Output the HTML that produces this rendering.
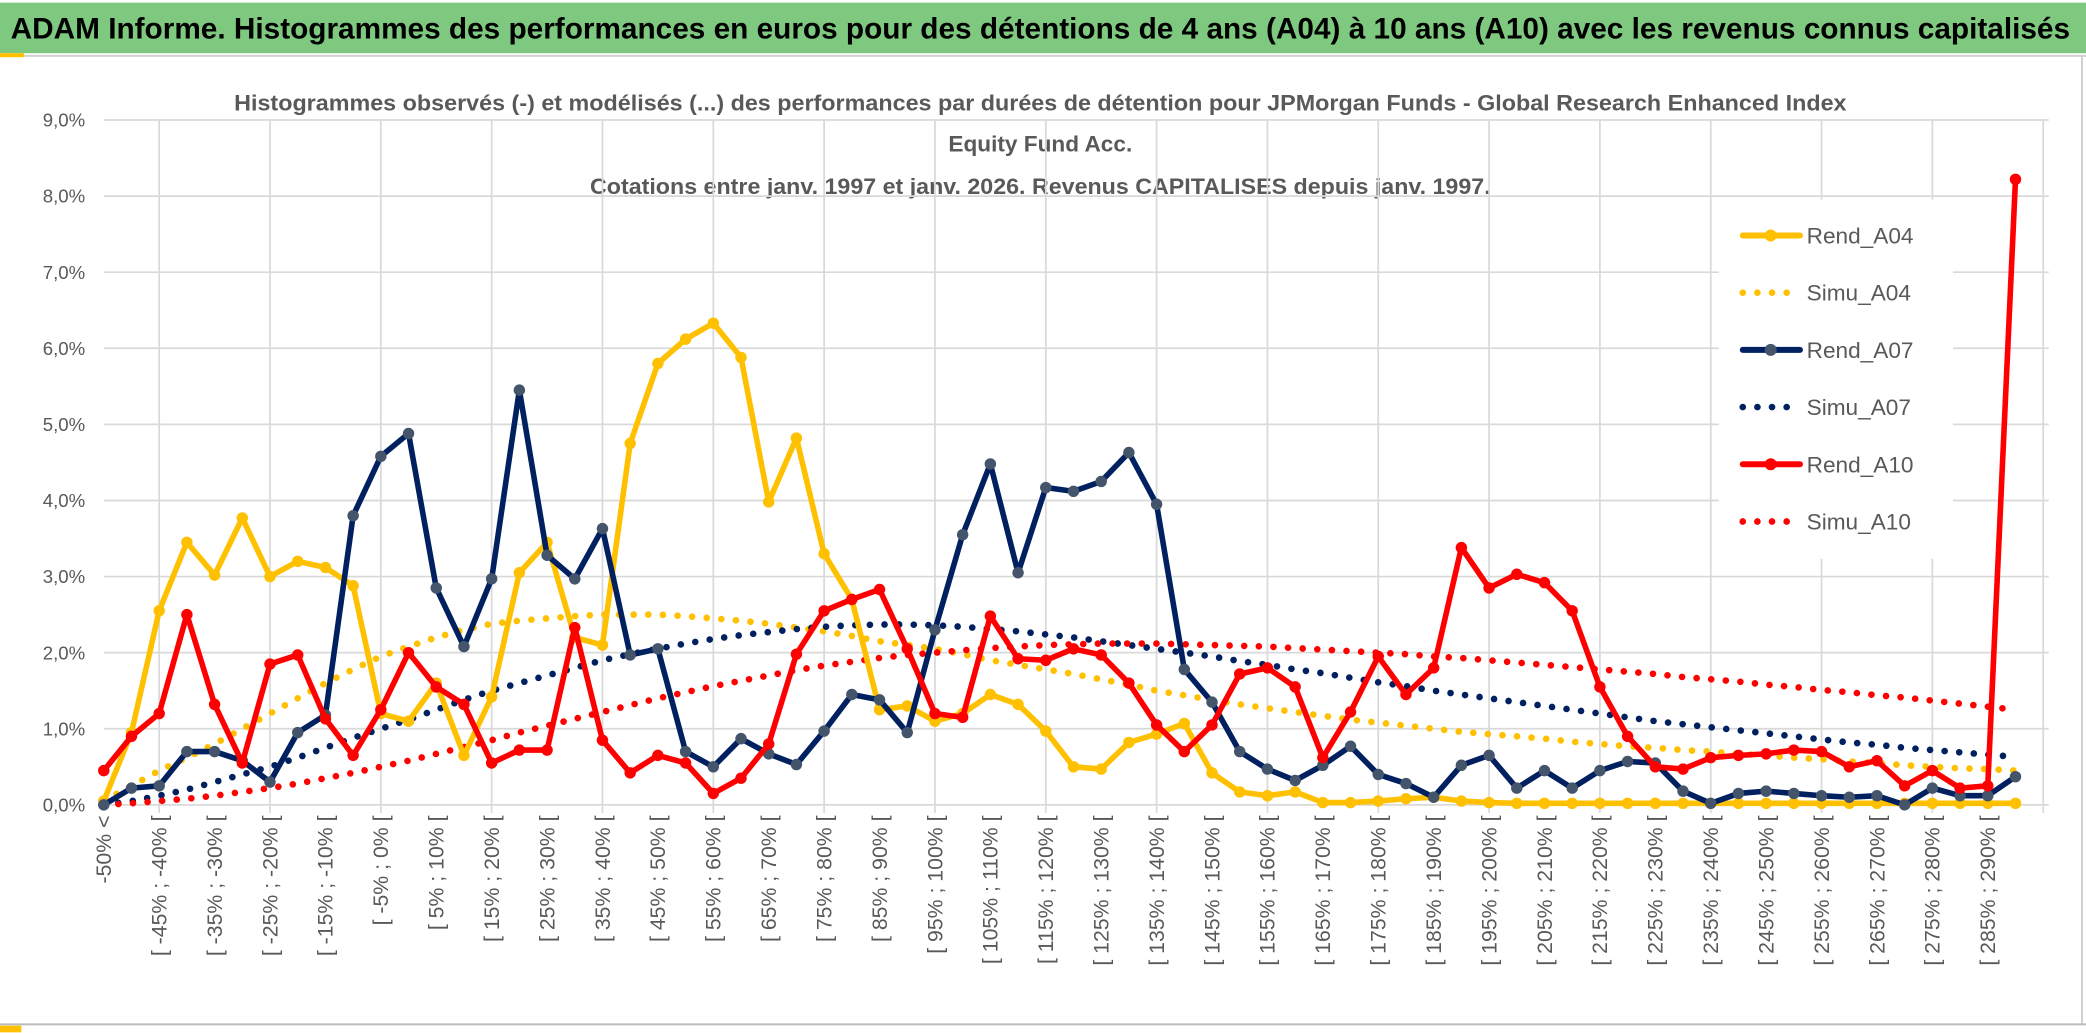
<!DOCTYPE html>
<html><head><meta charset="utf-8"><style>
html,body{margin:0;padding:0;background:#fff;}
svg{display:block;}
text{font-family:"Liberation Sans",sans-serif;}
</style></head><body>
<svg id="chart" width="2086" height="1033" viewBox="0 0 1568 776.5" preserveAspectRatio="none" xmlns="http://www.w3.org/2000/svg">
<rect x="0" y="0" width="1568" height="776.5" fill="#fff"/>
<rect x="0" y="2" width="1568" height="38" fill="#7ec87f"/>
<text x="8" y="29" font-size="22" font-weight="bold" fill="#000" textLength="1548" lengthAdjust="spacingAndGlyphs">ADAM Informe. Histogrammes des performances en euros pour des détentions de 4 ans (A04) à 10 ans (A10) avec les revenus connus capitalisés</text>
<rect x="0" y="40" width="18" height="3" fill="#ffc000"/>
<line x1="18" y1="42" x2="1568" y2="42" stroke="#d0d0d0" stroke-width="1.5"/>
<line x1="1565" y1="42" x2="1565" y2="770" stroke="#d0d0d0" stroke-width="1.5"/>
<line x1="0" y1="770" x2="1568" y2="770" stroke="#bbb" stroke-width="1.5"/>
<rect x="0" y="771" width="16" height="5" fill="#ffc000"/>
<g fill="#595959" font-size="17" font-weight="bold" text-anchor="middle">
<text x="782" y="83" textLength="1212" lengthAdjust="spacingAndGlyphs">Histogrammes observés (-) et modélisés (...) des performances par durées de détention pour JPMorgan Funds - Global Research Enhanced Index</text>
<text x="782" y="114">Equity Fund Acc.</text>
<text x="782" y="146" textLength="677" lengthAdjust="spacingAndGlyphs">Cotations entre janv. 1997 et janv. 2026. Revenus CAPITALISES depuis janv. 1997.</text>
</g>
<g id="grid"></g>
<g id="yaxis"></g>
<g id="xaxis"></g>
<g id="series"></g>
<g id="legend"></g>
</svg>
<script>
const yTicks = ['0,0%','1,0%','2,0%','3,0%','4,0%','5,0%','6,0%','7,0%','8,0%','9,0%'];
const categories = ['-50% <'];
for (let k = 1; k <= 68; k++) { const a = -50 + 5*(k-1); categories.push('[ ' + a + '% ; ' + (a+5) + '% ['); }
categories.push('> 290%');
const rendA04 = [0.05,0.95,2.55,3.45,3.02,3.77,3.0,3.2,3.12,2.88,1.2,1.1,1.6,0.65,1.42,3.05,3.45,2.2,2.1,4.75,5.8,6.12,6.33,5.88,3.98,4.82,3.3,2.7,1.25,1.3,1.1,1.2,1.45,1.32,0.97,0.5,0.47,0.82,0.93,1.07,0.42,0.17,0.12,0.17,0.03,0.03,0.05,0.08,0.1,0.05,0.03,0.02,0.02,0.02,0.02,0.02,0.02,0.02,0.02,0.02,0.02,0.02,0.02,0.02,0.02,0.02,0.02,0.02,0.02,0.02];
const rendA07 = [0.0,0.22,0.25,0.7,0.7,0.58,0.3,0.95,1.18,3.8,4.58,4.88,2.85,2.08,2.97,5.45,3.28,2.97,3.63,1.97,2.05,0.7,0.5,0.87,0.67,0.53,0.97,1.45,1.38,0.95,2.3,3.55,4.48,3.05,4.17,4.12,4.25,4.63,3.95,1.78,1.35,0.7,0.47,0.32,0.52,0.77,0.4,0.28,0.1,0.52,0.65,0.22,0.45,0.22,0.45,0.57,0.55,0.18,0.02,0.15,0.18,0.15,0.12,0.1,0.12,0.0,0.22,0.12,0.12,0.37];
const rendA10 = [0.45,0.9,1.2,2.5,1.32,0.55,1.85,1.97,1.13,0.65,1.25,2.0,1.55,1.32,0.55,0.72,0.72,2.33,0.85,0.42,0.65,0.55,0.15,0.35,0.8,1.98,2.55,2.7,2.83,2.05,1.2,1.15,2.48,1.92,1.9,2.05,1.97,1.6,1.05,0.7,1.05,1.72,1.8,1.55,0.62,1.22,1.95,1.45,1.8,3.38,2.85,3.03,2.92,2.55,1.55,0.9,0.5,0.47,0.62,0.65,0.67,0.72,0.7,0.5,0.58,0.25,0.45,0.22,0.25,8.22];
const simuA04 = [0.05,0.25,0.45,0.62,0.8,1.0,1.2,1.4,1.6,1.78,1.95,2.08,2.2,2.3,2.38,2.42,2.45,2.48,2.5,2.5,2.5,2.48,2.45,2.42,2.38,2.33,2.28,2.22,2.15,2.1,2.05,1.98,1.9,1.84,1.78,1.72,1.65,1.58,1.5,1.44,1.38,1.32,1.27,1.22,1.17,1.12,1.08,1.04,1.0,0.96,0.93,0.9,0.87,0.83,0.8,0.77,0.75,0.72,0.7,0.67,0.65,0.62,0.6,0.57,0.55,0.52,0.5,0.48,0.47,0.45];
const simuA07 = [0.0,0.05,0.12,0.2,0.3,0.4,0.5,0.62,0.75,0.88,1.0,1.12,1.25,1.38,1.5,1.6,1.7,1.8,1.9,1.98,2.05,2.12,2.18,2.23,2.27,2.31,2.34,2.36,2.37,2.37,2.36,2.34,2.31,2.28,2.24,2.2,2.15,2.1,2.05,2.0,1.95,1.89,1.84,1.78,1.73,1.67,1.61,1.56,1.5,1.45,1.4,1.35,1.3,1.25,1.2,1.15,1.1,1.06,1.02,0.98,0.94,0.9,0.86,0.82,0.79,0.75,0.72,0.69,0.66,0.63];
const simuA10 = [0.0,0.02,0.05,0.08,0.12,0.17,0.22,0.28,0.35,0.42,0.5,0.58,0.67,0.76,0.85,0.95,1.04,1.13,1.22,1.31,1.4,1.48,1.56,1.63,1.7,1.77,1.83,1.88,1.93,1.97,2.0,2.03,2.06,2.08,2.1,2.11,2.12,2.12,2.12,2.11,2.1,2.09,2.08,2.06,2.04,2.02,2.0,1.98,1.95,1.93,1.9,1.87,1.84,1.81,1.78,1.75,1.72,1.68,1.65,1.62,1.58,1.55,1.51,1.48,1.44,1.41,1.37,1.33,1.29,1.25];
const seriesNames = ['Rend_A04','Simu_A04','Rend_A07','Simu_A07','Rend_A10','Simu_A10'];

const NS = 'http://www.w3.org/2000/svg';
const X0 = 78, X1 = 1515, Y0 = 605, YSTEP = 57.2, PLOT_RIGHT = 1540;
const n = categories.length;
function xPos(i){ return X0 + i*(X1-X0)/(n-1); }
function yPos(v){ return Y0 - v*YSTEP; }
function mk(tag, attrs, parent){ const e = document.createElementNS(NS, tag); for (const k in attrs) e.setAttribute(k, attrs[k]); parent.appendChild(e); return e; }

const grid = document.getElementById('grid');
for (let t = 0; t < yTicks.length; t++) {
  const g = mk('line', {x1:X0, x2:PLOT_RIGHT, y1:yPos(t), y2:yPos(t), stroke:'#d9d9d9', 'stroke-width':1.3}, grid);
  
  
}
for (let i = 2; i < n + 2; i += 4) {
  const x = xPos(i); if (x > PLOT_RIGHT) break;
  const g = mk('line', {x1:x, x2:x, y1:yPos(9), y2:Y0 + 6, stroke:'#d9d9d9', 'stroke-width':1.3}, grid);
  
  
}
const yaxis = document.getElementById('yaxis');
yTicks.forEach((lab, t) => {
  const e = mk('text', {x:64, y:yPos(t)+5, 'text-anchor':'end', 'font-size':14, fill:'#595959'}, yaxis);
  e.textContent = lab;
  
  
});
const xaxis = document.getElementById('xaxis');
categories.forEach((lab, i) => {
  if (i % 2 !== 0) return;
  const x = xPos(i) + 5.5;
  const e = mk('text', {x:x, y:613, 'text-anchor':'end', 'font-size':16, fill:'#595959', transform:'rotate(-90 ' + x + ' 613)'}, xaxis);
  e.textContent = lab;
  
  
});

const series = document.getElementById('series');
function drawSeries(vals, color, dotted, markerFill, name){
  const g = mk('g', {}, series);
  
  
  const pts = vals.map((v,i) => xPos(i).toFixed(2) + ',' + yPos(v).toFixed(2)).join(' ');
  const attrs = {points:pts, fill:'none', stroke:color, 'stroke-linejoin':'round', 'stroke-linecap':'round'};
  if (dotted) { attrs['stroke-width'] = 5; attrs['stroke-dasharray'] = '0 11'; }
  else { attrs['stroke-width'] = 4.2; }
  const pl = mk('polyline', attrs, g);
  
  
  if (!dotted) {
    vals.forEach((v,i) => {
      const c = mk('circle', {cx:xPos(i), cy:yPos(v), r:4.3, fill:markerFill}, g);
      
      
    });
  }
}
drawSeries(simuA04, '#ffc000', true, null, 'simu-a04');
drawSeries(simuA07, '#002060', true, null, 'simu-a07');
drawSeries(simuA10, '#ff0000', true, null, 'simu-a10');
drawSeries(rendA04, '#ffc000', false, '#ffc000', 'rend-a04');
drawSeries(rendA07, '#002060', false, '#44546a', 'rend-a07');
drawSeries(rendA10, '#ff0000', false, '#ff0000', 'rend-a10');

const legend = document.getElementById('legend');
const lbg = mk('rect', {x:1292, y:150, width:176, height:270, fill:'#fff'}, legend);


const lColors = ['#ffc000','#ffc000','#002060','#002060','#ff0000','#ff0000'];
const lMarkers = ['#ffc000',null,'#44546a',null,'#ff0000',null];
seriesNames.forEach((nm, k) => {
  const y = 177 + k*43;
  const g = mk('g', {}, legend);
  
  
  if (lMarkers[k]) {
    mk('line', {x1:1310, x2:1353, y1:y, y2:y, stroke:lColors[k], 'stroke-width':4.5, 'stroke-linecap':'round'}, g);
    mk('circle', {cx:1331, cy:y, r:4.5, fill:lMarkers[k]}, g);
  } else {
    mk('line', {x1:1310, x2:1345, y1:y, y2:y, stroke:lColors[k], 'stroke-width':5, 'stroke-linecap':'round', 'stroke-dasharray':'0 11'}, g);
  }
  const t = mk('text', {x:1358, y:y+6, 'font-size':17, fill:'#595959'}, g);
  t.textContent = nm;
});
</script>
</body></html>
